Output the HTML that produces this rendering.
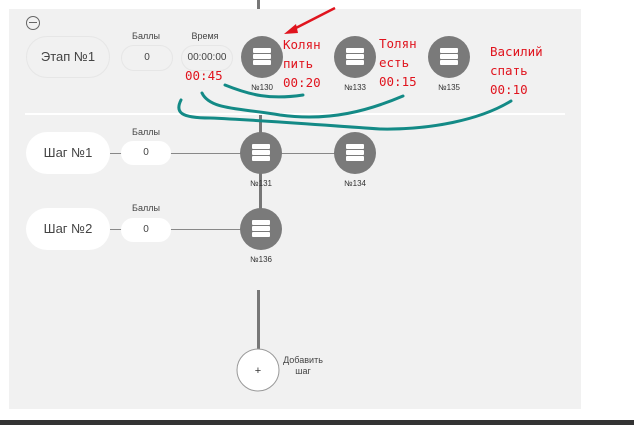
<!DOCTYPE html>
<html><head><meta charset="utf-8"><style>
body{margin:0;width:634px;height:425px;background:#fff;position:relative;overflow:hidden;font-family:"Liberation Sans",sans-serif}
.abs{position:absolute}
.panel{left:9px;top:9px;width:572px;height:400px;background:#f1f1f1}
.pill{border-radius:22px;text-align:center;color:#444;font-size:13px}
.lbl{font-size:9px;color:#444;text-align:center}
.node{width:42px;height:42px;border-radius:50%;background:#7a7a7a}
.num{font-size:8px;color:#333;width:40px;text-align:center}
.red{color:#e0141e;font-family:"DejaVu Sans Mono","Liberation Mono",monospace;font-size:12.5px;line-height:19px}
</style></head><body>
<div class="abs panel"></div>
<div class="abs" style="left:257px;top:0;width:3px;height:9px;background:#777"></div>
<div class="abs" style="left:26px;top:16px;width:12px;height:12px;border:1px solid #666;border-radius:50%"></div>
<div class="abs" style="left:29px;top:22px;width:8px;height:1px;background:#666"></div>
<div class="abs" style="left:25px;top:113px;width:540px;height:2px;background:#fff"></div>
<!-- lines -->
<div class="abs" style="left:110px;top:153px;width:245px;height:1px;background:#888"></div>
<div class="abs" style="left:110px;top:229px;width:150px;height:1px;background:#888"></div>
<div class="abs" style="left:259px;top:115px;width:3px;height:20px;background:#777"></div>
<div class="abs" style="left:259px;top:172px;width:3px;height:40px;background:#777"></div>
<div class="abs" style="left:257px;top:290px;width:3px;height:60px;background:#777"></div>
<!-- pills -->
<div class="abs pill" style="left:26px;top:36px;width:82px;height:40px;line-height:40px;border:1px solid #e6e6e6">Этап №1</div>
<div class="abs lbl" style="left:121px;top:31px;width:50px">Баллы</div>
<div class="abs pill" style="left:121px;top:45px;width:50px;height:24px;line-height:24px;border:1px solid #e6e6e6;font-size:10px">0</div>
<div class="abs lbl" style="left:180px;top:31px;width:50px">Время</div>
<div class="abs pill" style="left:181px;top:45px;width:50px;height:24px;line-height:24px;border:1px solid #e6e6e6;font-size:10px">00:00:00</div>
<div class="abs pill" style="left:26px;top:132px;width:84px;height:42px;line-height:42px;background:#fff">Шаг №1</div>
<div class="abs lbl" style="left:121px;top:127px;width:50px">Баллы</div>
<div class="abs pill" style="left:121px;top:141px;width:50px;height:24px;line-height:24px;background:#fff;font-size:10px">0</div>
<div class="abs pill" style="left:26px;top:208px;width:84px;height:42px;line-height:42px;background:#fff">Шаг №2</div>
<div class="abs lbl" style="left:121px;top:203px;width:50px">Баллы</div>
<div class="abs pill" style="left:121px;top:218px;width:50px;height:24px;line-height:24px;background:#fff;font-size:10px">0</div>
<!-- nodes -->
<svg class="abs" style="left:0;top:0" width="634" height="425">
<defs><g id="srv"><circle r="21" fill="#7a7a7a"/><g fill="#fff"><rect x="-9" y="-9" width="18" height="5" rx="1"/><rect x="-9" y="-3" width="18" height="5" rx="1"/><rect x="-9" y="3" width="18" height="5" rx="1"/></g></g></defs>
<use href="#srv" x="262" y="57"/><use href="#srv" x="355" y="57"/><use href="#srv" x="449" y="57"/>
<use href="#srv" x="261" y="153"/><use href="#srv" x="355" y="153"/><use href="#srv" x="261" y="229"/>
<circle cx="258" cy="370" r="21" fill="#fff" stroke="#999"/>
<text x="258" y="374" font-size="11" text-anchor="middle" fill="#333" font-family="Liberation Sans">+</text>
<path d="M335 8 L290 31" stroke="#e0141e" stroke-width="2.5"/>
<path d="M284 34 L296 24 L298 33 Z" fill="#e0141e"/>
<g fill="none" stroke="#138a86" stroke-width="3" stroke-linecap="round">
<path d="M225 85 C250 95,270 100,303 95"/>
<path d="M202 93 C210 110,240 108,280 115 C330 122,370 110,403 96"/>
<path d="M181 100 C175 112,180 118,210 118 C260 120,320 125,380 129 C430 130,480 120,511 101"/>
</g>
</svg>
<div class="abs num" style="left:242px;top:83px">№130</div>
<div class="abs num" style="left:335px;top:83px">№133</div>
<div class="abs num" style="left:429px;top:83px">№135</div>
<div class="abs num" style="left:241px;top:179px">№131</div>
<div class="abs num" style="left:335px;top:179px">№134</div>
<div class="abs num" style="left:241px;top:255px">№136</div>
<div class="abs" style="left:280px;top:355px;font-size:9px;color:#444;text-align:center;width:46px;line-height:11px">Добавить<br>шаг</div>
<div class="abs red" style="left:185px;top:66px">00:45</div>
<div class="abs red" style="left:283px;top:35px">Колян<br>пить<br>00:20</div>
<div class="abs red" style="left:379px;top:34px">Толян<br>есть<br>00:15</div>
<div class="abs red" style="left:490px;top:42px">Василий<br>спать<br>00:10</div>
<div class="abs" style="left:0;top:420px;width:634px;height:5px;background:#333"></div>
</body></html>
